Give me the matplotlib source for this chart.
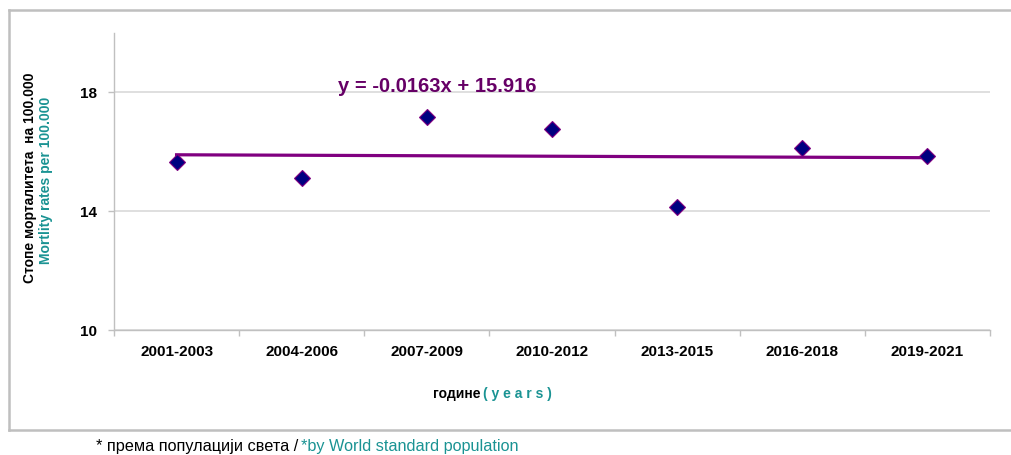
import numpy as np
import matplotlib
matplotlib.use("Agg")
import matplotlib.pyplot as plt
from matplotlib.lines import Line2D

plt.rcParams['font.family'] = ['Liberation Sans', 'DejaVu Sans']

# data
periods = ['2001-2003', '2004-2006', '2007-2009', '2010-2012',
           '2013-2015', '2016-2018', '2019-2021']
rates = [15.65, 15.11, 17.16, 16.76, 14.13, 16.12, 15.85]
trend_slope = -0.0163
trend_icpt = 15.916
yticks = [10, 14, 18]

teal = '#1a9393'
purple = '#800080'
navy = '#000080'

fig = plt.figure(figsize=(10.12, 4.55), dpi=100)
ax = fig.add_axes([114 / 1012, 1 - 330 / 455, 876 / 1012, 297 / 455])

x = np.arange(1, len(periods) + 1)
ax.plot(x, trend_slope * x + trend_icpt, color=purple, lw=2.3, zorder=2)
ax.plot(x, rates, ls='none', marker='D', ms=8, mfc=navy, mec=purple,
        mew=0.8, zorder=3)

ax.set_xlim(0.5, len(periods) + 0.5)
ax.set_ylim(10, 20)
ax.set_yticks(yticks)
ax.set_yticklabels([str(v) for v in yticks], fontsize=11, fontweight='bold')
ax.set_xticks(x)
ax.set_xticklabels(periods, fontsize=11, fontweight='bold')
ax.set_xticks(np.arange(0.5, len(periods) + 1), minor=True)
ax.tick_params(axis='x', which='major', length=0, pad=11)
ax.tick_params(axis='x', which='minor', length=4, color='#c0c0c0', width=1)
ax.tick_params(axis='y', length=4, color='#c0c0c0', width=1, pad=8)

ax.grid(axis='y', color='#d9d9d9', lw=1.2)
ax.set_axisbelow(True)
for s in ['top', 'right']:
    ax.spines[s].set_visible(False)
for s in ['left', 'bottom']:
    ax.spines[s].set_color('#c0c0c0')
    ax.spines[s].set_linewidth(1)

ax.text(338 / 1012, 1 - 87 / 455, 'y = -0.0163x + 15.916', transform=fig.transFigure,
        fontsize=14.5, fontweight='bold', color='#660066', va='center', ha='left')

# y axis title, two lines in two colours
fig.text(30 / 1012, 1 - 178 / 455, 'Стопе морталитета  на 100.000', rotation=90,
         ha='center', va='center', fontsize=10, fontweight='bold', color='black')
fig.text(46 / 1012, 1 - 180 / 455, 'Mortlity rates per 100.000', rotation=90,
         ha='center', va='center', fontsize=10, fontweight='bold', color=teal)

# x axis title
fig.text(433 / 1012, 1 - 394 / 455, 'године', ha='left', va='center',
         fontsize=10, fontweight='bold', color='black')
fig.text(483 / 1012, 1 - 394 / 455, '( y e a r s )', ha='left', va='center',
         fontsize=10, fontweight='bold', color=teal)

# footnote
fig.text(96 / 1012, 1 - 447 / 455, '* према популацији света /', ha='left',
         va='center', fontsize=11.7, color='black')
fig.text(301 / 1012, 1 - 447 / 455, '*by World standard population', ha='left',
         va='center', fontsize=11.7, color=teal)

# outer chart frame
border = '#bfbfbf'
fig.add_artist(Line2D([9 / 1012, 9 / 1012], [1 - 430 / 455, 1 - 9.5 / 455],
                      transform=fig.transFigure, color=border, lw=1.8))
fig.add_artist(Line2D([9 / 1012, 1], [1 - 9.5 / 455, 1 - 9.5 / 455],
                      transform=fig.transFigure, color=border, lw=1.8))
fig.add_artist(Line2D([9 / 1012, 1], [1 - 430 / 455, 1 - 430 / 455],
                      transform=fig.transFigure, color=border, lw=1.8))

fig.savefig('out.png', dpi=100)
